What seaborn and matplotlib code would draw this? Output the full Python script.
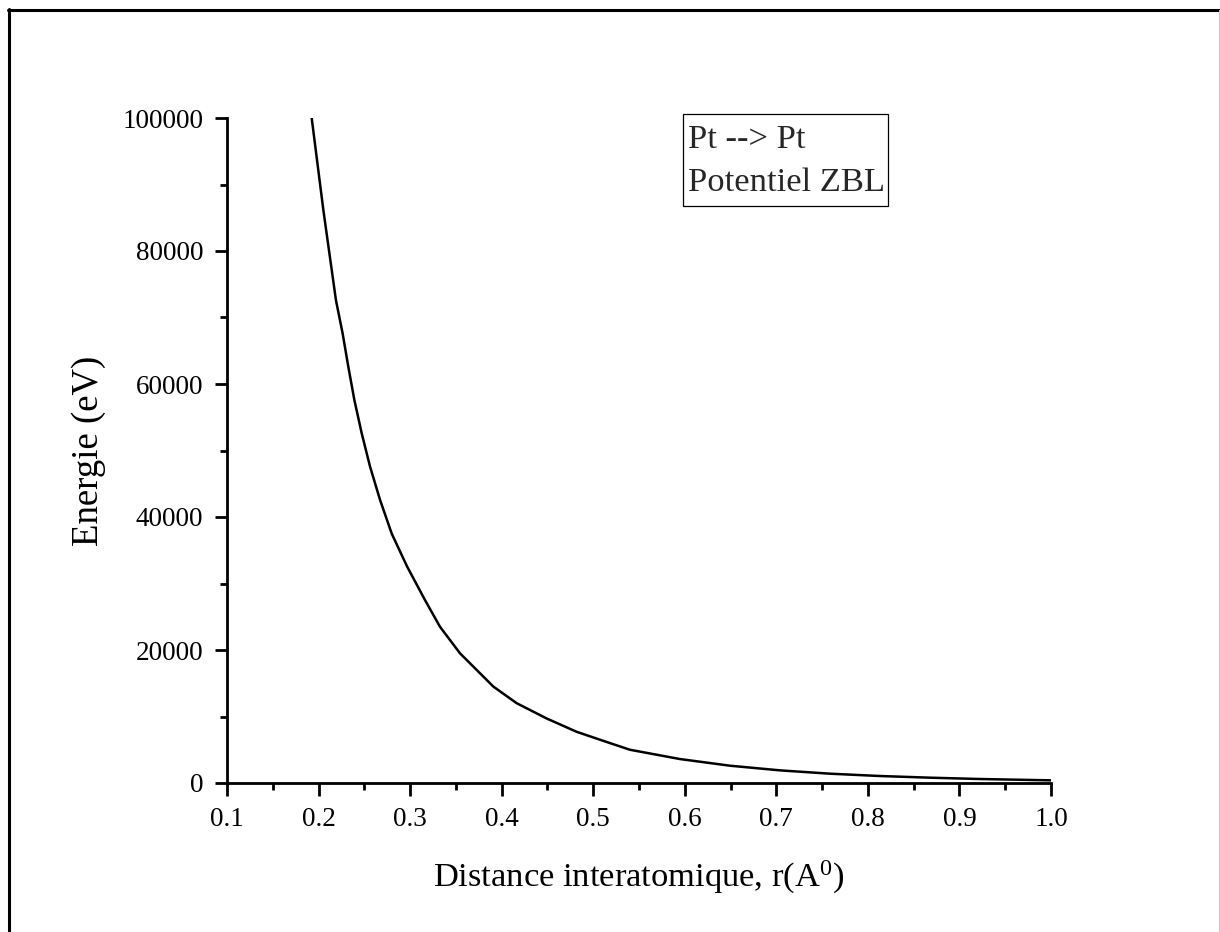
import numpy as np
import pandas as pd
import matplotlib
matplotlib.use("Agg")
import matplotlib.pyplot as plt
from matplotlib.lines import Line2D
from matplotlib.patches import Rectangle
from matplotlib.ticker import MultipleLocator
import seaborn as sns

# values
r_angstrom = [0.1925, 0.2052, 0.2190, 0.2263, 0.2325, 0.2391, 0.2471, 0.2562,
              0.2671, 0.2799, 0.2969, 0.3163, 0.3326, 0.3545, 0.3909, 0.4164,
              0.4492, 0.4819, 0.5183, 0.5401, 0.5948, 0.6494, 0.7040, 0.7586,
              0.8132, 0.8678, 0.9224, 1.0]
energie_ev = [100000, 86200, 72600, 67600, 62600, 57600, 52600, 47600,
              42600, 37500, 32500, 27500, 23500, 19500, 14500, 12000,
              9700, 7700, 6000, 5000, 3600, 2600, 1900, 1400,
              1050, 800, 600, 400]
x_ticks = [0.1, 0.2, 0.3, 0.4, 0.5, 0.6, 0.7, 0.8, 0.9, 1.0]
y_ticks = [0, 20000, 40000, 60000, 80000, 100000]
legend_lines = ["Pt --> Pt", "Potentiel ZBL"]

sns.set_theme(style="ticks")
plt.rcParams["font.family"] = ["Liberation Serif", "DejaVu Serif"]
plt.rcParams["mathtext.fontset"] = "custom"
plt.rcParams["mathtext.rm"] = "Liberation Serif"
plt.rcParams["mathtext.it"] = "Liberation Serif"

df = pd.DataFrame({"r": r_angstrom, "E": energie_ev})

W, H = 1220, 932
fig = plt.figure(figsize=(W / 100, H / 100), dpi=100)
fig.patch.set_facecolor("white")
ax = fig.add_axes([227 / W, 1 - 783 / H, (1051 - 227) / W, (783 - 118) / H])

sns.lineplot(data=df, x="r", y="E", ax=ax, color="black", linewidth=1.8, sort=True)

ax.set_xlim(0.1, 1.0)
ax.set_ylim(0, 100000)
ax.set_xticks(x_ticks)
ax.set_xticklabels([f"{t:.1f}" for t in x_ticks])
ax.set_yticks(y_ticks)
ax.set_yticklabels([str(t) for t in y_ticks])
ax.xaxis.set_minor_locator(MultipleLocator(0.05))
ax.yaxis.set_minor_locator(MultipleLocator(10000))

for side in ["top", "right"]:
    ax.spines[side].set_visible(False)
for side in ["left", "bottom"]:
    ax.spines[side].set_linewidth(2.0)
    ax.spines[side].set_color("black")

ax.tick_params(axis="both", which="major", direction="out", length=9, width=2.0,
               colors="black", labelsize=19.5)
ax.tick_params(axis="both", which="minor", direction="out", length=5, width=2.0,
               colors="black")
ax.tick_params(axis="y", which="major", pad=8)
ax.tick_params(axis="x", which="major", pad=8)
ax.set_facecolor("white")

ax.set_xlabel(r"Distance interatomique, r(A$^{0}$)", fontsize=24.8, color="black")
ax.set_ylabel("Energie (eV)", fontsize=26.5, color="black")
ax.xaxis.label.set_verticalalignment("baseline")
ax.xaxis.set_label_coords(0.5, (783 - 887) / 665)
ax.yaxis.set_label_coords((106 - 227) / 824, 0.5)

# text box in upper right
fig.add_artist(Rectangle((683 / W, 1 - 206 / H), (888 - 683) / W, (206 - 114) / H,
                         transform=fig.transFigure, facecolor="white",
                         edgecolor="black", linewidth=0.9))
fig.text(688 / W, 1 - 140 / H, legend_lines[0], fontsize=24.8, va="center", ha="left")
fig.text(688 / W, 1 - 183 / H, legend_lines[1], fontsize=24.8, va="center", ha="left")

# outer frame of the picture
fig.add_artist(Line2D([9 / W, 9 / W], [0, 1 - 9 / H], transform=fig.transFigure,
                      color="black", linewidth=2.2))
fig.add_artist(Line2D([8 / W, 1219 / W], [1 - 10 / H, 1 - 10 / H], transform=fig.transFigure,
                      color="black", linewidth=2.2))
fig.add_artist(Line2D([1219 / W, 1219 / W], [0, 1 - 10 / H], transform=fig.transFigure,
                      color="#c8c8c8", linewidth=0.8))

fig.savefig("out.png", dpi=100, facecolor="white")
